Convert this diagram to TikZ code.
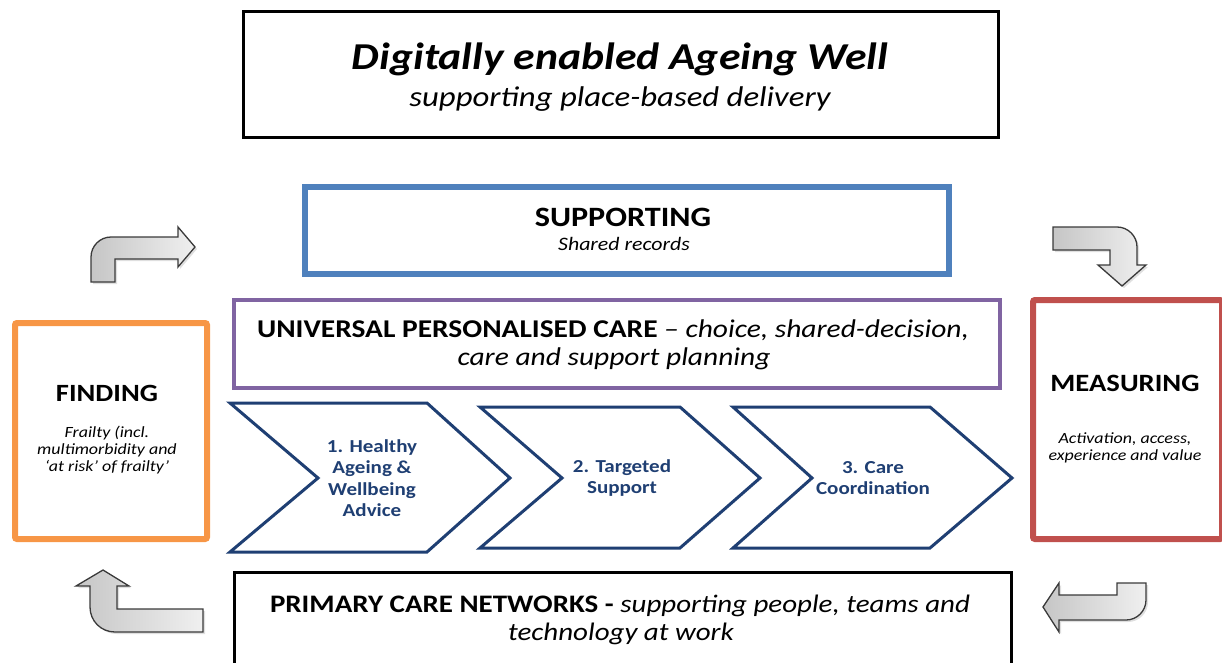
\documentclass[tikz,border=0pt]{standalone}
\usepackage{fontspec}
\setmainfont{Carlito}[FakeStretch=1.15]
\usetikzlibrary{shadows}
\definecolor{supblue}{HTML}{4F81BD}
\definecolor{upcpurple}{HTML}{8064A2}
\definecolor{findorange}{HTML}{F79646}
\definecolor{measred}{HTML}{C0504D}
\definecolor{navy}{HTML}{1F3F73}
\definecolor{arrowline}{HTML}{3A3A3A}
\newcommand{\fs}[2]{\fontsize{#1}{#2}\selectfont}
\tikzset{
  box/.style={draw, inner sep=0pt, anchor=north west},
  txt/.style={inner sep=0pt, anchor=base},
  mtxt/.style={inner sep=0pt, align=center},
  chev/.style={draw=navy, line width=3pt, line join=miter, fill=white},
  chevtext/.style={mtxt, text=navy, font=\fs{18.3}{21.3}\bfseries},
  bent/.style={draw=arrowline, line width=1.3pt, line join=miter, left color=gray!45, right color=gray!12,
    drop shadow={shadow xshift=2pt, shadow yshift=-2pt, opacity=0.25}},
}
\begin{document}
\begin{tikzpicture}[x=1pt, y=-1pt]
\useasboundingbox (0,0) rectangle (1222,663);
% title
\node[box, line width=3pt, minimum width=755pt, minimum height=126pt] (title) at (242,10) {};
\node[txt, font=\fs{38}{44}\bfseries\itshape] (t1) at (620,70) {Digitally enabled Ageing Well};
\node[txt, font=\fs{28.5}{34}\itshape] (t2) at (620,107) {supporting place-based delivery};
% supporting
\node[box, draw=supblue, line width=6pt, minimum width=644pt, minimum height=87pt] (sup) at (302,184) {};
\node[txt, font=\fs{28}{32}\bfseries] (s1) at (623,226) {SUPPORTING};
\node[txt, font=\fs{19}{22}\itshape] (s2) at (624,250) {Shared records};
% universal personalised care
\node[box, draw=upcpurple, line width=4pt, minimum width=766pt, minimum height=88pt] (upc) at (232,298) {};
\node[txt, font=\fs{25.6}{28}\itshape] (u1) at (613,337) {{\bfseries\upshape UNIVERSAL PERSONALISED CARE} – choice, shared-decision,};
\node[txt, font=\fs{25.6}{28}\itshape] (u2) at (614,365) {care and support planning};
% finding
\node[box, draw=findorange, line width=6pt, rounded corners=2pt, minimum width=192pt, minimum height=216pt] (find) at (12,320) {};
\node[txt, font=\fs{24.8}{28}\bfseries] (ft) at (107,401) {FINDING};
\node[mtxt, font=\fs{15.6}{16.8}\itshape] (fs) at (107,450)
  {Frailty (incl.\\multimorbidity and\\‘at risk’ of frailty’};
% measuring
\node[box, draw=measred, line width=6pt, rounded corners=2pt, minimum width=189pt, minimum height=239pt] (meas) at (1030,297) {};
\node[txt, font=\fs{24.9}{28}\bfseries] (mt) at (1125,391) {MEASURING};
\node[mtxt, font=\fs{15.6}{17}\itshape] (ms) at (1125,448)
  {Activation, access,\\experience and value};
% primary care networks
\node[box, line width=3pt, minimum width=777pt, minimum height=92pt] (pcn) at (233,571) {};
\node[txt, font=\fs{25.2}{28}\itshape] (p1) at (620,612) {{\bfseries\upshape PRIMARY CARE NETWORKS -} supporting people, teams and};
\node[txt, font=\fs{25.2}{28}\itshape] (p2) at (621,640) {technology at work};
% chevrons
\draw[chev] (230,403) -- (427,403) -- (510,478) -- (427,552) -- (230,552) -- (318,478) -- cycle;
\node[chevtext] (c1) at (372,478) {1. Healthy\\Ageing \&\\Wellbeing\\Advice};
\draw[chev] (480,407) -- (680,407) -- (760,478) -- (680,548) -- (480,548) -- (562,478) -- cycle;
\node[chevtext] (c2) at (622,478) {2. Targeted\\Support};
\draw[chev] (733,407) -- (930,407) -- (1012,478) -- (930,548) -- (733,548) -- (812,478) -- cycle;
\node[chevtext] (c3) at (873,478) {3. Care\\Coordination};
% bent arrows
\path[bent] (91,282) -- (91,257) .. controls (91,246) and (100,237) .. (111,237) -- (178,237) -- (178,227)
  -- (195,247) -- (178,267) -- (178,259) -- (115,259) -- (115,282) -- cycle;
\path[bent] (1053,227) -- (1117,227) .. controls (1128,227) and (1137,236) .. (1137,247) -- (1137,265)
  -- (1146,265) -- (1122,286) -- (1098,265) -- (1110,265) -- (1110,250) -- (1053,250) -- cycle;
\path[bent] (103,570) -- (129,586) -- (117,586) -- (117,609) -- (203,609) -- (203,632) -- (115,632)
  .. controls (101,632) and (90,621) .. (90,607) -- (90,586) -- (76,586) -- cycle;
\path[bent] (1043,607) -- (1059,583) -- (1059,595) -- (1117,595) -- (1117,583) -- (1146,583) -- (1146,600)
  .. controls (1146,611) and (1137,620) .. (1126,620) -- (1059,620) -- (1059,632) -- cycle;
\end{tikzpicture}
\end{document}
